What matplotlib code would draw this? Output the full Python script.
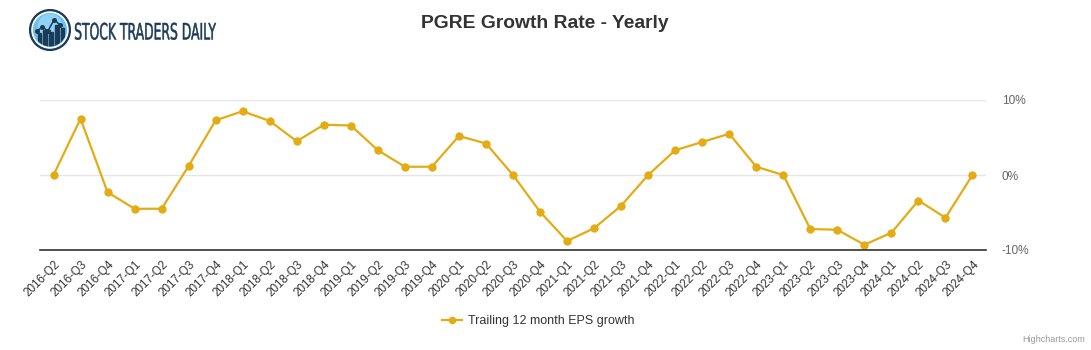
import numpy as np
import matplotlib
matplotlib.use("Agg")
import matplotlib.pyplot as plt
from matplotlib.patches import Circle, Rectangle, PathPatch
from matplotlib.textpath import TextPath
from matplotlib.font_manager import FontProperties
from matplotlib.transforms import Affine2D

plt.rcParams["font.family"] = ["Liberation Sans", "DejaVu Sans"]

# quarters and trailing 12 month EPS growth (%)
quarters = [
    "2016-Q2", "2016-Q3", "2016-Q4",
    "2017-Q1", "2017-Q2", "2017-Q3", "2017-Q4",
    "2018-Q1", "2018-Q2", "2018-Q3", "2018-Q4",
    "2019-Q1", "2019-Q2", "2019-Q3", "2019-Q4",
    "2020-Q1", "2020-Q2", "2020-Q3", "2020-Q4",
    "2021-Q1", "2021-Q2", "2021-Q3", "2021-Q4",
    "2022-Q1", "2022-Q2", "2022-Q3", "2022-Q4",
    "2023-Q1", "2023-Q2", "2023-Q3", "2023-Q4",
    "2024-Q1", "2024-Q2", "2024-Q3", "2024-Q4",
]
eps_growth = [
    0.0, 7.5, -2.3,
    -4.5, -4.5, 1.2, 7.3,
    8.5, 7.2, 4.5, 6.7,
    6.6, 3.3, 1.1, 1.1,
    5.2, 4.2, 0.0, -4.9,
    -8.8, -7.1, -4.1, 0.0,
    3.3, 4.4, 5.5, 1.1,
    0.0, -7.2, -7.3, -9.3,
    -7.7, -3.4, -5.7, 0.0,
]
y_ticks = [-10, 0, 10]

W, H = 1091, 350
LINE = "#E3AC14"
NAVY = "#1b3a56"

fig = plt.figure(figsize=(W / 100, H / 100), dpi=100)
ax = fig.add_axes([40 / W, (H - 250) / H, 946 / W, 150 / H])

x = np.arange(len(quarters))
ax.plot(x, eps_growth, color=LINE, linewidth=1.6, marker="o",
        markersize=6, markeredgewidth=0, zorder=3,
        label="Trailing 12 month EPS growth")

ax.set_xlim(-0.5, len(quarters) - 0.5)
ax.set_ylim(-10, 10)
ax.set_yticks(y_ticks)
ax.set_yticklabels([f"{v}%" for v in y_ticks])
ax.yaxis.tick_right()
ax.tick_params(axis="y", length=0, pad=11.5, labelsize=8.6, labelcolor="#666666")
ax.set_xticks(x)
ax.set_xticklabels(quarters, rotation=45, ha="right", rotation_mode="anchor")
ax.tick_params(axis="x", length=0, pad=6, labelsize=8.4, labelcolor="#333333")

ax.grid(axis="y", color="#e6e6e6", linewidth=1)
ax.set_axisbelow(True)
for side in ["top", "left", "right"]:
    ax.spines[side].set_visible(False)
ax.spines["bottom"].set_color("#333333")
ax.spines["bottom"].set_linewidth(1.2)
ax.spines["bottom"].set_zorder(4)

fig.text(545 / W, 1 - 23 / H, "PGRE Growth Rate - Yearly", ha="center",
         va="center", fontsize=13.9, fontweight="bold", color="#333333")

fig.legend(loc="center", bbox_to_anchor=(538 / W, 1 - 321 / H), frameon=False,
           fontsize=9.0, labelcolor="#333333", handlelength=1.6,
           handletextpad=0.5, markerscale=0.9)

fig.text(1085 / W, 1 - 340 / H, "Highcharts.com", ha="right", va="center",
         fontsize=6.5, color="#999999")

# logo: ring with a small bar/line chart inside
lax = fig.add_axes([29 / W, (H - 51) / H, 42 / W, 42 / H])
lax.set_xlim(-1, 1)
lax.set_ylim(-1, 1)
lax.set_aspect("equal")
lax.axis("off")
lax.add_patch(Circle((0, 0), 0.97, color=NAVY))
lax.add_patch(Circle((0, 0), 0.86, color="white"))
lax.add_patch(Circle((0, 0), 0.78, color="#6cc0ee"))
lax.add_patch(Circle((0, 0.2), 0.55, color="#8fd2f6"))
clip = Circle((0, 0), 0.78, transform=lax.transData)
bar_x = [-0.5, -0.22, 0.06, 0.34, 0.6]
bar_h = [0.45, 0.6, 0.5, 0.85, 0.7]
for bx, bh in zip(bar_x, bar_h):
    r = Rectangle((bx - 0.09, -0.8), 0.18, bh + 0.2, color=NAVY)
    lax.add_patch(r)
    r.set_clip_path(clip)
lax.plot([-0.62, -0.36, -0.1, 0.2, 0.46], [-0.05, 0.15, -0.05, 0.5, 0.25],
         color=NAVY, linewidth=1.1, marker="o", markersize=2.6)

# condensed wordmark, squeezed horizontally to fit
tp = TextPath((0, 0), "STOCK TRADERS DAILY", size=100,
              prop=FontProperties(family="DejaVu Sans"))
bb = tp.get_extents()
sx = 141 / bb.width
sy = 16.5 / 72.9
tr = Affine2D().translate(-bb.x0, 0).scale(sx, sy).translate(75, H - 39.5)
fig.patches.append(PathPatch(tp, transform=tr, facecolor=NAVY,
                             edgecolor=NAVY, lw=0.35))

fig.savefig("out.png", dpi=100)
